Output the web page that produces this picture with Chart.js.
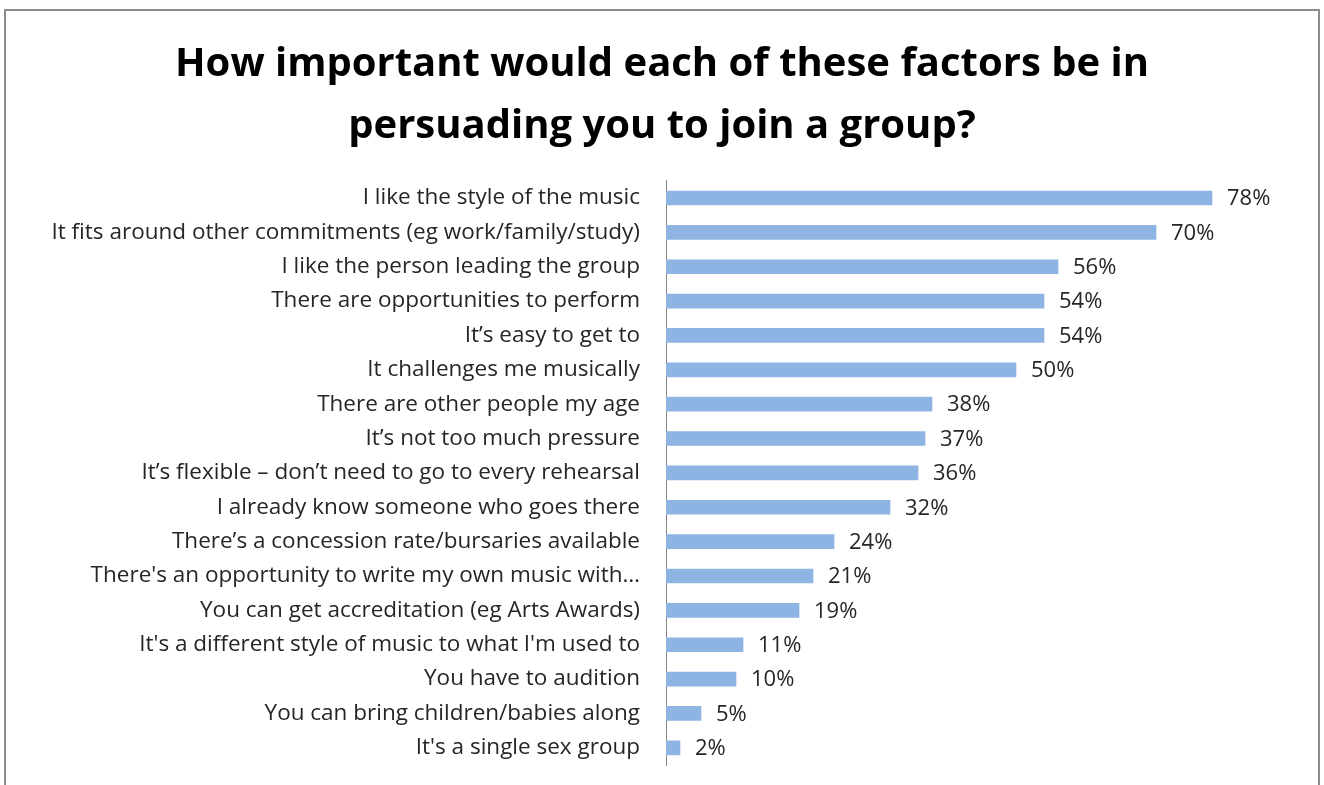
<!DOCTYPE html>
<html>
<head>
<meta charset="utf-8">
<script src="https://cdn.jsdelivr.net/npm/chart.js@4.4.1/dist/chart.umd.min.js"></script>
<style>
  html, body { margin: 0; padding: 0; background: #fff; }
  #wrap { position: relative; width: 1324px; height: 785px; overflow: hidden; }
  #frame { position: absolute; left: 4px; top: 9px; width: 1316px; height: 800px;
           border: 2px solid #8c8c8c; box-sizing: border-box; pointer-events: none; }
  canvas { position: absolute; left: 0; top: 0; }
</style>
</head>
<body>
<div id="wrap">
  <canvas id="chart" width="1324" height="785"></canvas>
  <div id="frame"></div>
</div>
<script>
const titleLines = [
  'How important would each of these factors be in',
  'persuading you to join a group?'
];

const factors = [
  'I like the style of the music',
  'It fits around other commitments (eg work/family/study)',
  'I like the person leading the group',
  'There are opportunities to perform',
  'It\u2019s easy to get to',
  'It challenges me musically',
  'There are other people my age',
  'It\u2019s not too much pressure',
  'It\u2019s flexible \u2013 don\u2019t need to go to every rehearsal',
  'I already know someone who goes there',
  'There\u2019s a concession rate/bursaries available',
  'There\'s an opportunity to write my own music with\u2026',
  'You can get accreditation (eg Arts Awards)',
  'It\'s a different style of music to what I\'m used to',
  'You have to audition',
  'You can bring children/babies along',
  'It\'s a single sex group'
];

const percentages = [78, 70, 56, 54, 54, 50, 38, 37, 36, 32, 24, 21, 19, 11, 10, 5, 2];

const FONT = '"Open Sans", Lato, sans-serif';

// Writes the percentage to the right of each bar
const valueLabels = {
  id: 'valueLabels',
  afterDatasetsDraw(chart) {
    const { ctx } = chart;
    const meta = chart.getDatasetMeta(0);
    ctx.save();
    ctx.font = '22px ' + FONT;
    ctx.fillStyle = '#262626';
    ctx.textAlign = 'left';
    ctx.textBaseline = 'middle';
    meta.data.forEach((bar, i) => {
      ctx.fillText(percentages[i] + '%', bar.x + 15, bar.y + 1);
    });
    ctx.restore();
  }
};

new Chart(document.getElementById('chart'), {
  type: 'bar',
  data: {
    labels: factors,
    datasets: [{
      data: percentages,
      backgroundColor: '#8EB4E3',
      borderWidth: 0,
      barThickness: 14
    }]
  },
  options: {
    indexAxis: 'y',
    responsive: false,
    animation: false,
    layout: { padding: { left: 0, right: 0, top: 0, bottom: 20 } },
    plugins: {
      legend: { display: false },
      tooltip: { enabled: false },
      title: {
        display: true,
        text: titleLines,
        color: '#000',
        font: { family: FONT, size: 40, weight: 'bold', lineHeight: 1.56 },
        padding: { top: 33, bottom: 23 }
      }
    },
    scales: {
      x: {
        display: false,
        min: 0,
        max: 94
      },
      y: {
        // fixed label column; no extra vertical room for the edge labels
        afterFit(scale) {
          scale.width = 666;
          scale.paddingTop = 0;
          scale.paddingBottom = 0;
        },
        grid: { display: false, drawTicks: false },
        border: { display: true, color: '#868686', width: 1 },
        ticks: {
          color: '#262626',
          padding: 26,
          font: { family: FONT, size: 22.5 }
        }
      }
    }
  },
  plugins: [valueLabels]
});
</script>
</body>
</html>
